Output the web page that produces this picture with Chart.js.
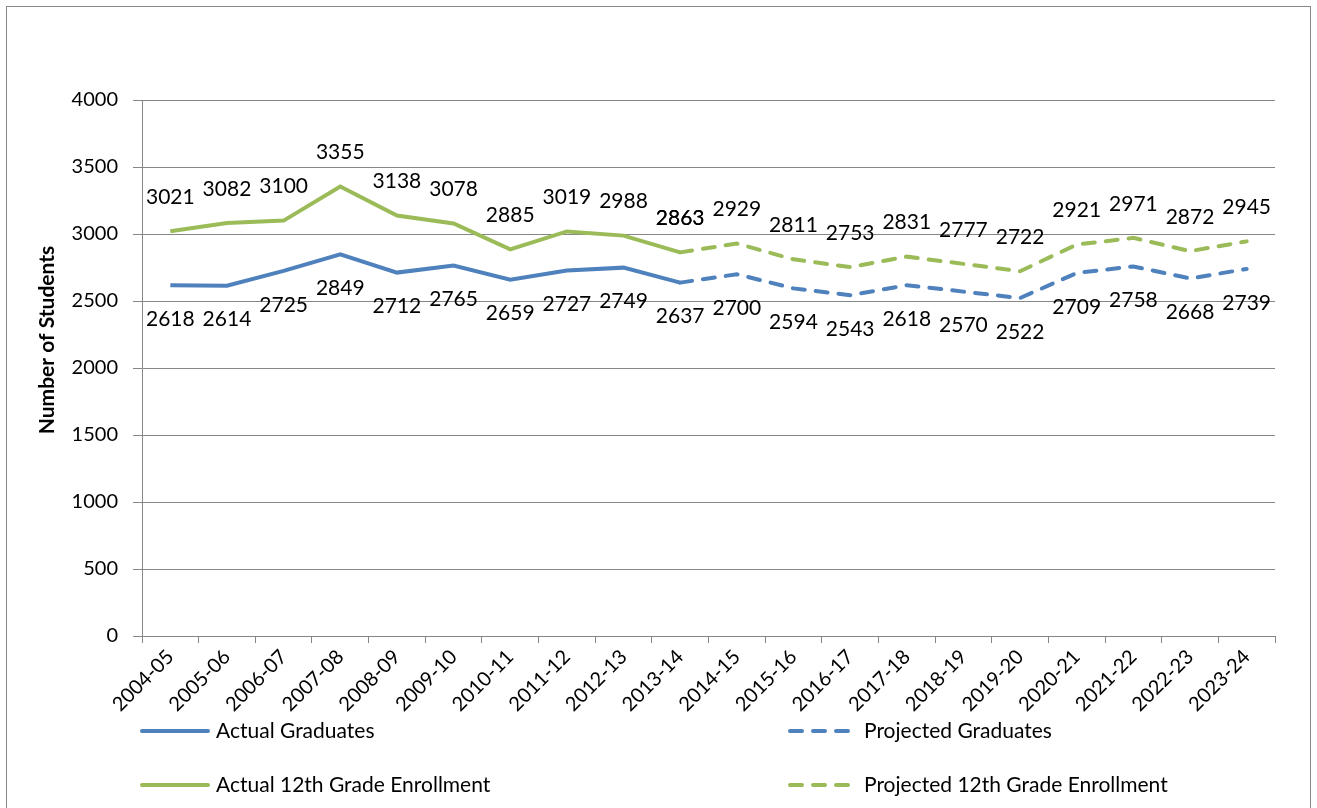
<!DOCTYPE html>
<html>
<head>
<meta charset="utf-8">
<script src="https://cdn.jsdelivr.net/npm/chart.js@4.4.1/dist/chart.umd.min.js"></script>
<style>
  html, body { margin: 0; padding: 0; background: #fff; }
  #wrap { width: 1317px; height: 808px; }
</style>
</head>
<body>
<div id="wrap"><canvas id="chart" width="1317" height="808"></canvas></div>
<script>
const years = ['2004-05', '2005-06', '2006-07', '2007-08', '2008-09', '2009-10', '2010-11',
  '2011-12', '2012-13', '2013-14', '2014-15', '2015-16', '2016-17', '2017-18', '2018-19',
  '2019-20', '2020-21', '2021-22', '2022-23', '2023-24'];

const actualGraduates = [2618, 2614, 2725, 2849, 2712, 2765, 2659, 2727, 2749, 2637,
  null, null, null, null, null, null, null, null, null, null];
const projectedGraduates = [null, null, null, null, null, null, null, null, null, 2637,
  2700, 2594, 2543, 2618, 2570, 2522, 2709, 2758, 2668, 2739];
const actualEnrollment = [3021, 3082, 3100, 3355, 3138, 3078, 2885, 3019, 2988, 2863,
  null, null, null, null, null, null, null, null, null, null];
const projectedEnrollment = [null, null, null, null, null, null, null, null, null, 2863,
  2929, 2811, 2753, 2831, 2777, 2722, 2921, 2971, 2872, 2945];

const yTicks = [0, 500, 1000, 1500, 2000, 2500, 3000, 3500, 4000];

const BLUE = '#4f81bd';
const GREEN = '#9bbb59';
const GREY = '#868686';
const FONT = 'Lato, "Open Sans", sans-serif';

// value labels: green above the line, blue below
const valueLabels = {
  id: 'valueLabels',
  afterDatasetsDraw(chart) {
    const ctx = chart.ctx;
    ctx.save();
    ctx.font = '21px ' + FONT;
    ctx.fillStyle = '#000';
    ctx.textAlign = 'center';
    ctx.textBaseline = 'middle';
    chart.data.datasets.forEach((ds, i) => {
      const meta = chart.getDatasetMeta(i);
      let first = true;
      ds.data.forEach((v, j) => {
        if (v === null) return;
        if (first && ds.skipFirstLabel) { first = false; return; }
        first = false;
        const pt = meta.data[j];
        const dy = ds.labelSide === 'above' ? -34 : 34;
        ctx.fillText(String(v), pt.x, pt.y + dy);
      });
    });
    ctx.restore();
  }
};

// two-column legend under the axis, y title, outer frame
const legendAndFrame = {
  id: 'legendAndFrame',
  afterDraw(chart) {
    const ctx = chart.ctx;
    ctx.save();
    ctx.strokeStyle = GREY;
    ctx.lineWidth = 1;
    ctx.strokeRect(6.5, 6.5, 1304, 820);

    ctx.save();
    ctx.translate(47, 340);
    ctx.rotate(-Math.PI / 2);
    ctx.fillStyle = '#000';
    ctx.font = 'bold 21px ' + FONT;
    ctx.textAlign = 'center';
    ctx.textBaseline = 'middle';
    ctx.fillText('Number of Students', 0, 0);
    ctx.restore();

    const spots = [[142, 731], [790, 731], [142, 785], [790, 785]];
    chart.data.datasets.forEach((ds, i) => {
      const [x, y] = spots[i];
      ctx.beginPath();
      ctx.strokeStyle = ds.borderColor;
      ctx.lineWidth = 4;
      ctx.lineCap = 'round';
      ctx.setLineDash(ds.borderDash || []);
      ctx.moveTo(x, y);
      ctx.lineTo(x + 66, y);
      ctx.stroke();
      ctx.setLineDash([]);
      ctx.fillStyle = '#000';
      ctx.font = '21px ' + FONT;
      ctx.textAlign = 'left';
      ctx.textBaseline = 'middle';
      ctx.fillText(ds.label, x + 74, y);
    });
    ctx.restore();
  }
};

const lineStyle = {
  borderWidth: 4,
  pointRadius: 0,
  pointHoverRadius: 0,
  tension: 0,
  fill: false,
  spanGaps: false
};

new Chart(document.getElementById('chart'), {
  type: 'line',
  data: {
    labels: years,
    datasets: [
      Object.assign({ label: 'Actual Graduates', data: actualGraduates,
        borderColor: BLUE, labelSide: 'below' }, lineStyle),
      Object.assign({ label: 'Projected Graduates', data: projectedGraduates,
        borderColor: BLUE, borderDash: [12, 11], borderCapStyle: 'round',
        labelSide: 'below', skipFirstLabel: true }, lineStyle),
      Object.assign({ label: 'Actual 12th Grade Enrollment', data: actualEnrollment,
        borderColor: GREEN, labelSide: 'above' }, lineStyle),
      Object.assign({ label: 'Projected 12th Grade Enrollment', data: projectedEnrollment,
        borderColor: GREEN, borderDash: [12, 11], borderCapStyle: 'round', labelSide: 'above' }, lineStyle)
    ]
  },
  options: {
    responsive: false,
    animation: false,
    layout: { padding: { left: 0, right: 42, top: 100, bottom: 92 } },
    plugins: {
      legend: { display: false },
      tooltip: { enabled: false }
    },
    scales: {
      x: {
        offset: true,
        grid: { offset: true, drawOnChartArea: false, drawTicks: true, tickLength: 7, color: GREY },
        border: { color: GREY, width: 1 },
        ticks: {
          autoSkip: false, minRotation: 45, maxRotation: 45, padding: 2,
          color: '#000', font: { family: FONT, size: 20 }
        },
        afterFit(scale) { scale.height = 80; }
      },
      y: {
        min: 0,
        max: 4000,
        afterBuildTicks(scale) { scale.ticks = yTicks.map(v => ({ value: v })); },
        grid: { color: GREY, tickLength: 9 },
        border: { color: GREY, width: 1 },
        ticks: {
          color: '#000', padding: 15, font: { family: FONT, size: 20 },
          callback: v => String(v)
        },
        afterFit(scale) { scale.width = 142; }
      }
    }
  },
  plugins: [valueLabels, legendAndFrame]
});
</script>
</body>
</html>
